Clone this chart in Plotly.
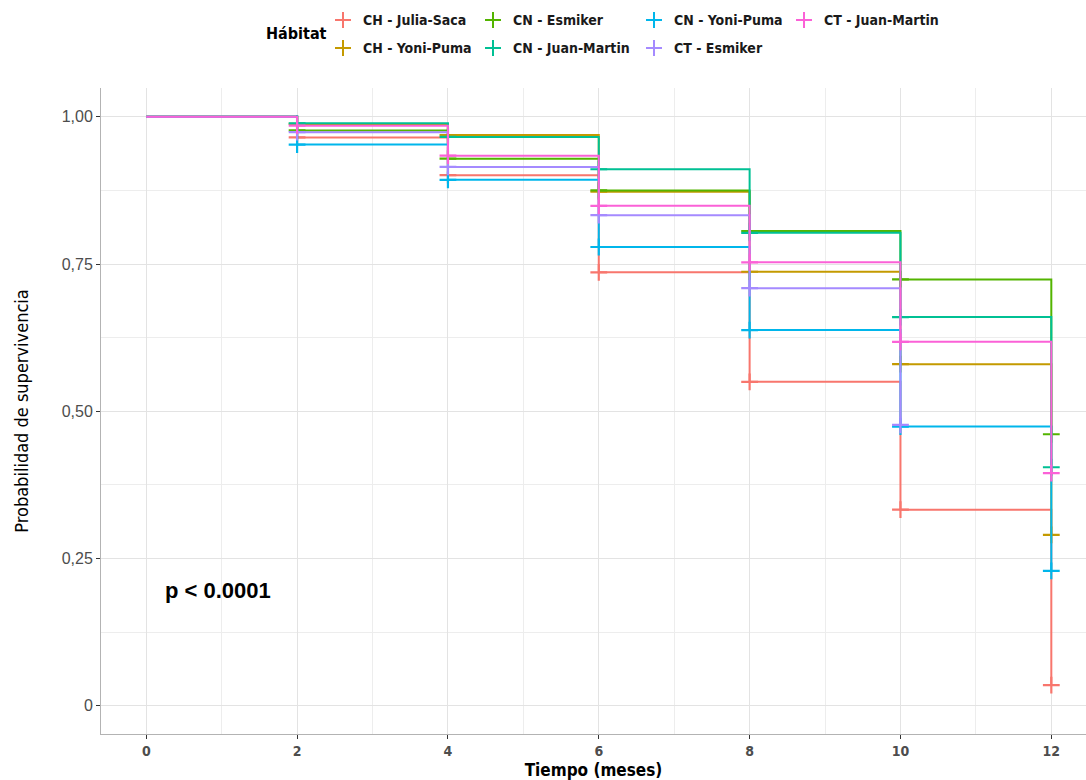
import plotly.graph_objects as go

# Kaplan-Meier survival estimates per habitat (months 0..12)
tiempos = [0, 2, 4, 6, 8, 10, 12]
grupos = ["CH - Julia-Saca", "CH - Yoni-Puma", "CN - Esmiker", "CN - Juan-Martin",
          "CN - Yoni-Puma", "CT - Esmiker", "CT - Juan-Martin"]
colores = ["#F8766D", "#C49A00", "#53B400", "#00C094", "#00B6EB", "#A58AFF", "#FB61D7"]

s_ch_julia_saca = [1.0, 0.965, 0.901, 0.736, 0.550, 0.333, 0.035]
s_ch_yoni_puma = [1.0, 0.988, 0.969, 0.873, 0.737, 0.580, 0.290]
s_cn_esmiker = [1.0, 0.977, 0.929, 0.875, 0.806, 0.724, 0.461]
s_cn_juan_martin = [1.0, 0.989, 0.966, 0.911, 0.803, 0.660, 0.405]
s_cn_yoni_puma = [1.0, 0.953, 0.893, 0.779, 0.638, 0.474, 0.229]
s_ct_esmiker = [1.0, 0.974, 0.915, 0.833, 0.709, 0.477]
s_ct_juan_martin = [1.0, 0.985, 0.934, 0.849, 0.753, 0.618, 0.395]

supervivencia = [s_ch_julia_saca, s_ch_yoni_puma, s_cn_esmiker, s_cn_juan_martin,
                 s_cn_yoni_puma, s_ct_esmiker, s_ct_juan_martin]

y_ticks = [0, 0.25, 0.5, 0.75, 1.0]
y_ticktext = ["0", "0,25", "0,50", "0,75", "1,00"]
x_ticks = [0, 2, 4, 6, 8, 10, 12]

W, H = 1086, 780
M_L, M_R, M_T, M_B = 101, 0, 88, 46
NARROW = "Liberation Sans Narrow, DejaVu Sans Condensed, Arial Narrow, sans-serif"
SANS = "Liberation Sans, Arial, sans-serif"

fig = go.Figure()

for nombre, color, s in zip(grupos, colores, supervivencia):
    t = tiempos[:len(s)]
    fig.add_trace(go.Scatter(
        x=t, y=s, mode="lines", line=dict(color=color, width=2, shape="hv"),
        name=nombre, showlegend=False, hoverinfo="skip"))
    # censoring marks
    fig.add_trace(go.Scatter(
        x=t[1:], y=s[1:], mode="markers",
        marker=dict(symbol="cross-thin", size=12, line=dict(color=color, width=2.2)),
        showlegend=False, hoverinfo="skip"))


def px_x(px):
    return (px - M_L) / (W - M_L - M_R)


def px_y(py):
    return (H - M_B - py) / (H - M_T - M_B)


# legend drawn as crosses + labels, filled by columns in two rows
leg_cols = [343, 493, 654, 804]
leg_rows = [20, 48]
shapes = []
annotations = []
for i, (nombre, color) in enumerate(zip(grupos, colores)):
    col, row = i // 2, i % 2
    cx, cy = leg_cols[col], leg_rows[row]
    shapes.append(dict(type="line", xref="paper", yref="paper",
                       x0=px_x(cx - 8), x1=px_x(cx + 8), y0=px_y(cy), y1=px_y(cy),
                       line=dict(color=color, width=2)))
    shapes.append(dict(type="line", xref="paper", yref="paper",
                       x0=px_x(cx), x1=px_x(cx), y0=px_y(cy - 8), y1=px_y(cy + 8),
                       line=dict(color=color, width=2)))
    annotations.append(dict(xref="paper", yref="paper", x=px_x(cx + 18), y=px_y(cy),
                            xanchor="left", yanchor="middle", showarrow=False,
                            text="<b>%s</b>" % nombre,
                            font=dict(family=NARROW, size=14, color="#1A1A1A")))

annotations.append(dict(xref="paper", yref="paper", x=px_x(264), y=px_y(34),
                        xanchor="left", yanchor="middle", showarrow=False,
                        text="<b>Hábitat</b>",
                        font=dict(family=NARROW, size=16, color="#000000")))

annotations.append(dict(x=0.22, y=0.196, xref="x", yref="y", xanchor="left",
                        yanchor="middle", showarrow=False, text="<b>p < 0.0001</b>",
                        font=dict(family=SANS, size=22, color="#000000")))

fig.update_layout(
    width=W, height=H,
    margin=dict(l=M_L, r=M_R, t=M_T, b=M_B),
    paper_bgcolor="white", plot_bgcolor="white",
    shapes=shapes, annotations=annotations,
    xaxis=dict(
        range=[-0.6, 12.46], tickvals=x_ticks, ticktext=[str(v) for v in x_ticks],
        showgrid=True, gridcolor="#E3E3E3", gridwidth=1,
        minor=dict(showgrid=True, gridcolor="#EDEDED", dtick=1, tick0=0, gridwidth=1),
        showline=True, linecolor="#B3B3B3", linewidth=1,
        ticks="outside", ticklen=4, tickcolor="#333333",
        zeroline=False,
        tickfont=dict(family=NARROW, size=14, color="#4D4D4D", weight="bold"),
        title=dict(text="<b>Tiempo (meses)</b>", standoff=6,
                   font=dict(family=NARROW, size=17, color="#000000")),
    ),
    yaxis=dict(
        range=[-0.048, 1.049], tickvals=y_ticks, ticktext=y_ticktext,
        showgrid=True, gridcolor="#E3E3E3", gridwidth=1,
        minor=dict(showgrid=True, gridcolor="#EDEDED", dtick=0.125, tick0=0, gridwidth=1),
        showline=True, linecolor="#B3B3B3", linewidth=1,
        ticks="outside", ticklen=4, tickcolor="#333333",
        zeroline=False,
        tickfont=dict(family=SANS, size=16, color="#4D4D4D"),
        title=dict(text="Probabilidad de supervivencia", standoff=28,
                   font=dict(family=NARROW, size=18, color="#000000")),
    ),
)

fig.write_html("out.html")
